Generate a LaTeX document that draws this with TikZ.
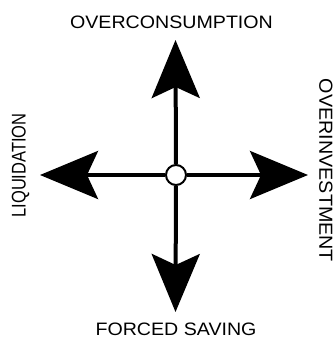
\documentclass[tikz,border=0pt]{standalone}
\usepackage{fontspec}
\setmainfont{Liberation Sans}
\usetikzlibrary{arrows.meta}
\begin{document}
\begin{tikzpicture}[x=1pt,y=-1pt,
  lbl/.style={inner sep=0pt, font=\fontsize{18}{18}\selectfont},
  bigarrow/.style={line width=4pt, -{Stealth[length=58pt,width=48pt,inset=11pt]}},
  hub/.style={circle, draw, line width=2pt, fill=white, minimum size=20pt, inner sep=0pt}]
\useasboundingbox (0,0) rectangle (334,338);
\node[hub] (c) at (176,175) {};
\coordinate (up) at (175.5,40);
\coordinate (down) at (175.5,312);
\coordinate (left) at (40,175);
\coordinate (right) at (308,175);
\draw[bigarrow] (c) -- (up);
\draw[bigarrow] (c) -- (down);
\draw[bigarrow] (c) -- (left);
\draw[bigarrow] (c) -- (right);
\node[lbl] (top) at (171.5,22.5) {\scalebox{1.09}[1.0]{OVERCONSUMPTION}};
\node[lbl] (bot) at (176,329) {\scalebox{1.09}[1.0]{FORCED SAVING}};
\node[lbl, rotate=90] (lq) at (20.5,165.5) {\scalebox{0.916}[1.1]{LIQUIDATION}};
\node[lbl, rotate=-90] (ov) at (326,170.5) {\scalebox{1.096}[1.05]{OVERINVESTMENT}};
\end{tikzpicture}
\end{document}
